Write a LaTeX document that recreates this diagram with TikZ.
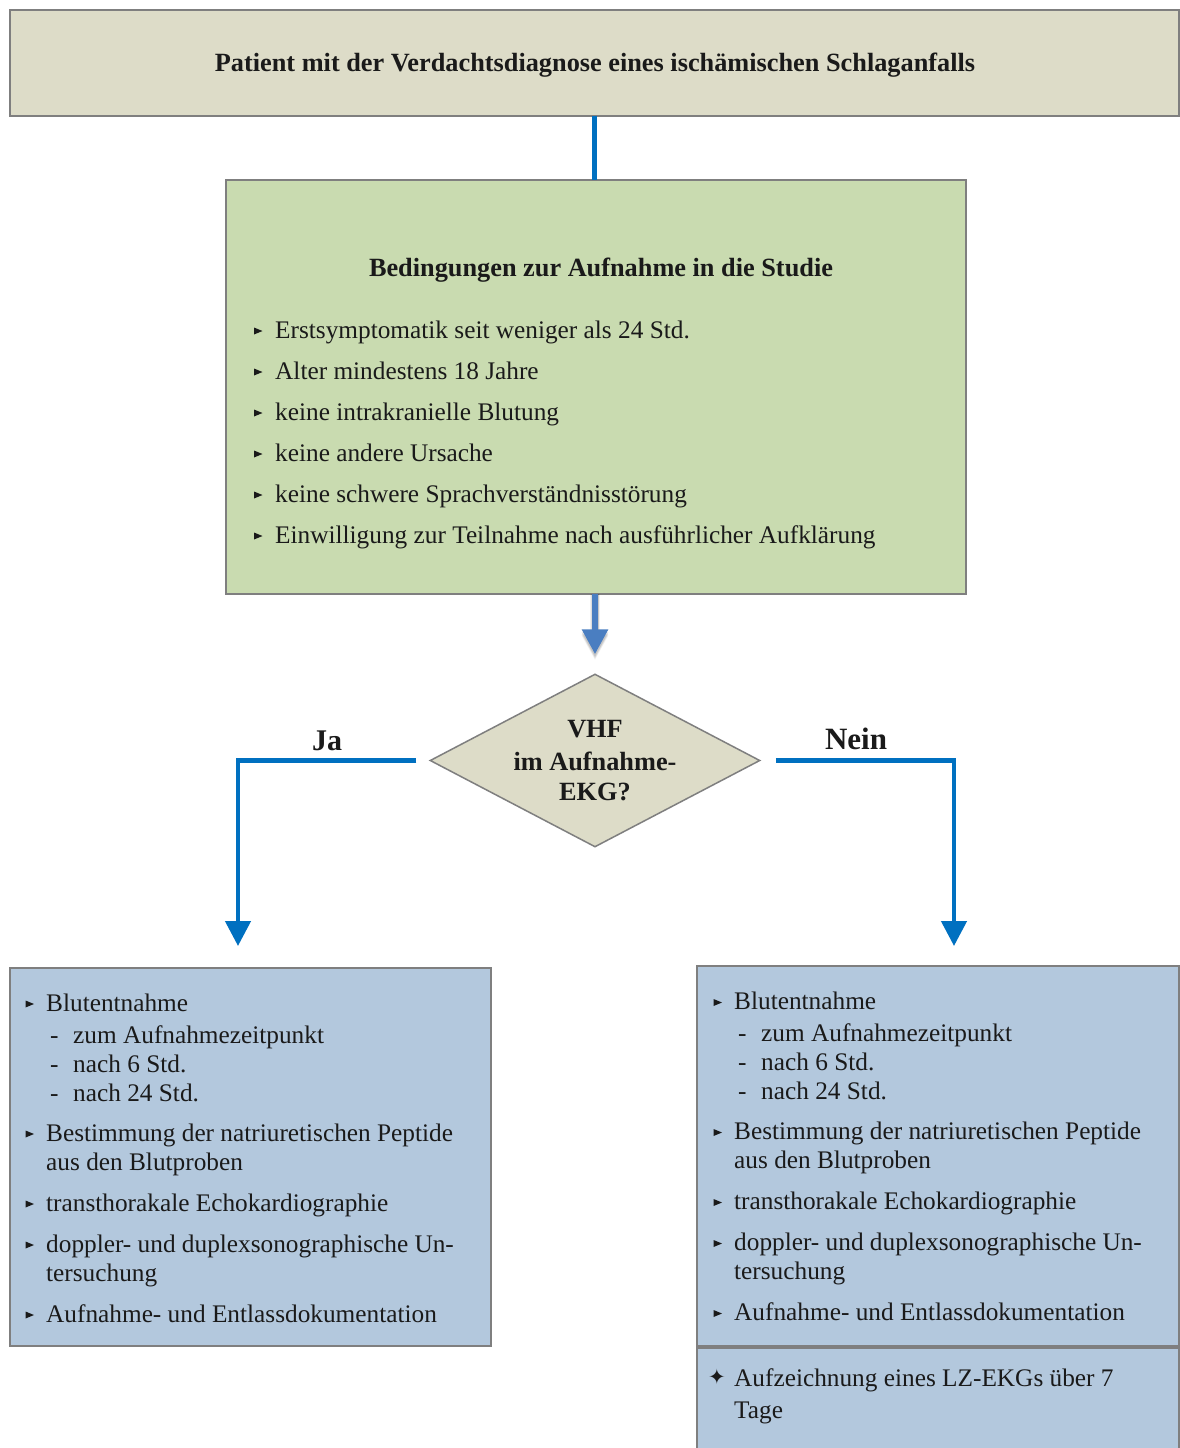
\documentclass[tikz,border=0pt]{standalone}
\usepackage{fontspec}
\setmainfont{Liberation Serif}
\newfontfamily\symfont{DejaVu Sans}
\usetikzlibrary{shapes.geometric,arrows.meta}
\definecolor{beige}{HTML}{DDDCC8}
\definecolor{greenbox}{HTML}{C9DBB0}
\definecolor{bluebox}{HTML}{B3C8DD}
\definecolor{lineblue}{HTML}{0070C0}
\definecolor{arrowblue}{HTML}{4A7EC1}
\definecolor{bordergray}{HTML}{7F7F7F}
\definecolor{txt}{HTML}{1A1A1A}
\newcommand\mybul[2]{\fill[txt] (#1-4,#2-10.5) -- (#1+4.5,#2-7) -- (#1-4,#2-3.5) -- cycle;}
\newcommand\bluelist{%
  \foreach \yy/\txtline [count=\i] in {1011/Blutentnahme, 1141/Bestimmung der natriuretischen Peptide, 1211/transthorakale Echokardiographie, 1252/doppler- und duplexsonographische Un-, 1322/Aufnahme- und Entlassdokumentation}{%
    \mybul{29.5}{\yy}
    \node[body] (b\i) at (46,\yy) {\txtline};
  }
  \foreach \yy/\txtline [count=\i] in {1043/zum Aufnahmezeitpunkt, 1072/nach 6 Std., 1101/nach 24 Std.}{%
    \node[body] (d\i) at (50,\yy) {-};
    \node[body] (s\i) at (73,\yy) {\txtline};
  }
  \node[body] (c1) at (46,1170) {aus den Blutproben};
  \node[body] (c2) at (46,1281) {tersuchung};
}
\begin{document}
\begin{tikzpicture}[x=1pt,y=-1pt,
  box/.style={draw=bordergray, line width=1.5pt, inner sep=0, outer sep=0},
  body/.style={font=\fontsize{25.3}{30}\selectfont, text=txt, inner sep=0, anchor=base west},
  boldtxt/.style={font=\fontsize{26.3}{30}\selectfont\bfseries, text=txt, inner sep=0, anchor=base},
  conn/.style={draw=lineblue, line width=4.5pt},
  tip/.style={-{Triangle[length=25pt,width=25pt]}}
  ]
\useasboundingbox (0,0) rectangle (1180,1448);
\fill[white] (0,0) rectangle (1180,1448);

% boxes
\node[box, fill=beige, minimum width=1169pt, minimum height=106pt] (top) at (594.5,63) {};
\node[box, fill=greenbox, minimum width=740pt, minimum height=414pt] (green) at (596,387) {};
\node[diamond, draw=bordergray, line width=1.5pt, fill=beige, aspect=1.9,
      minimum width=330pt, minimum height=173pt, inner sep=0] (dia) at (595,760.5) {};
\node[box, fill=bluebox, minimum width=481pt, minimum height=378pt] (left) at (250.5,1157) {};
\node[box, fill=bluebox, minimum width=482pt, minimum height=380pt] (right) at (938,1156) {};
\node[box, fill=bluebox, minimum width=482pt, minimum height=122pt] (right2) at (938,1409) {};

% texts
\node[boldtxt] (toptext) at (595,71.5) {Patient mit der Verdachtsdiagnose eines ischämischen Schlaganfalls};
\node[boldtxt] (gtitle) at (601,276) {Bedingungen zur Aufnahme in die Studie};
\foreach \yy/\txtline [count=\i] in {338/Erstsymptomatik seit weniger als 24 Std., 379/Alter mindestens 18 Jahre, 420/keine intrakranielle Blutung, 461/keine andere Ursache, 502/keine schwere Sprachverständnisstörung, 543/Einwilligung zur Teilnahme nach ausführlicher Aufklärung}{%
  \mybul{258}{\yy}
  \node[body] (g\i) at (275,\yy) {\txtline};
}
\node[boldtxt] (q1) at (595,737) {VHF};
\node[boldtxt] (q2) at (595,770) {im Aufnahme-};
\node[boldtxt] (q3) at (595,800) {EKG?};
\node[boldtxt, font=\fontsize{30}{30}\selectfont\bfseries] (ja) at (327,750) {Ja};
\node[boldtxt, font=\fontsize{31}{30}\selectfont\bfseries] (nein) at (856,749) {Nein};

\begin{scope}[name prefix=L-]
  \bluelist
\end{scope}
\begin{scope}[shift={(688,-1.5)}, name prefix=R-]
  \bluelist
\end{scope}
\node[body, font=\symfont\fontsize{21}{24}\selectfont, anchor=base] (star) at (717,1384) {✦};
\node[body] (z1) at (734,1386) {Aufzeichnung eines LZ-EKGs über 7};
\node[body] (z2) at (734,1418) {Tage};

% connectors
\coordinate (jaend) at (238,946);
\coordinate (neinend) at (954,946);
\draw[conn] (top.south) -- (top.south |- green.north);
\foreach \o/\op in {4/0.06, 2.5/0.08, 1/0.1}{
  \draw[draw=black, opacity=\op, line width=6pt+\o pt, tip] (green.south -| dia.north) -- ([yshift=17pt-\o pt]dia.north);
}
\draw[draw=arrowblue, line width=6pt, tip] (green.south -| dia.north) -- ([yshift=19pt]dia.north);
\draw[conn, tip] ([xshift=-13pt]dia.west) -| (jaend);
\draw[conn, tip] ([xshift=15pt]dia.east) -| (neinend);
\end{tikzpicture}
\end{document}
